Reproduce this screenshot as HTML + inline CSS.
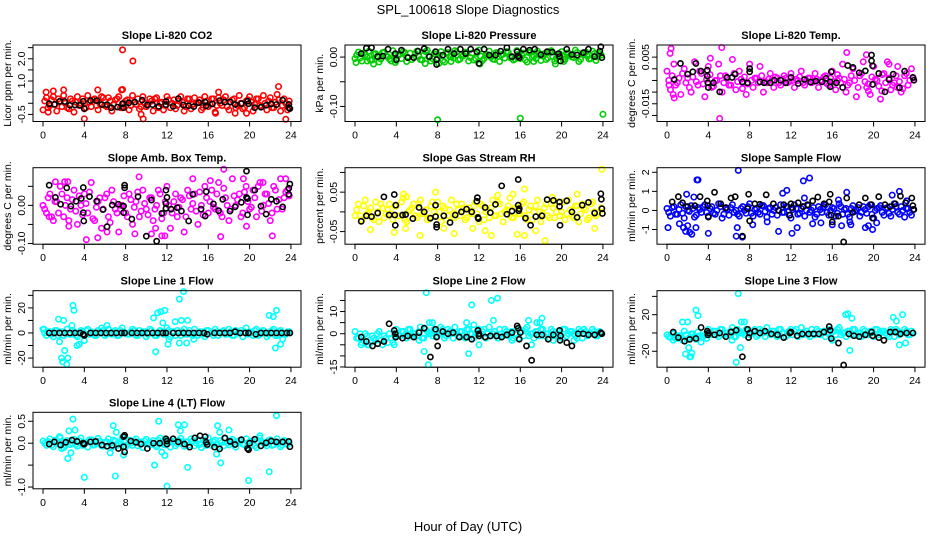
<!DOCTYPE html>
<html><head><meta charset="utf-8"><style>
html,body{margin:0;padding:0;background:#fff;}
svg{display:block;font-family:"Liberation Sans",Arial,sans-serif;}
</style></head><body>
<svg id="chart" width="936" height="540" viewBox="0 0 936 540" xmlns="http://www.w3.org/2000/svg">
<rect width="936" height="540" fill="#fff"/>
<text x="468" y="14" text-anchor="middle" font-size="13">SPL_100618  Slope Diagnostics</text>
<text x="468" y="531" text-anchor="middle" font-size="13">Hour of Day (UTC)</text>
</svg>
<script>
// ---- data ----
const xTicks = [0,4,8,12,16,20,24];

const co2Color = [-0.3,0.25,-0.1,0.3,-0.35,0.1,0.35,-0.2,0.2,-0.4,0.3,0,-0.25,0.35,-0.15,0.2,-0.3,0.3,-0.1,0.25,-0.35,0.15,0.3,-0.2,0.1,-0.3,0.35,-0.05,-0.25,0.3,-0.15,0.2,-0.35,0.25,0,-0.3,0.3,-0.2,0.15,-0.1,0.3,-0.35,0.2,-0.25,0.25,0.05,-0.3,0.3,-0.15,0.2,-0.4,0.25,-0.1,0.3,-0.3,0.15,-0.2,0.35,-0.25,0.1,0.3,-0.35,0.2,-0.1,0.35,-0.3,0.25,-0.2,0.4,-0.35,0.2,-0.3];
const co2ColorB = [0.1,-0.2,0.15,-0.05,0.2,-0.15,0,-0.25,0.1,0.05,-0.1,0.2,-0.2,0.05,0.15,-0.1,0,0.25,-0.15,0.1,-0.05,0.2,-0.2,0,0.15,-0.1,0.05,0.2,-0.15,0,-0.05,0.1,0.2,-0.2,0.05,-0.1,0.15,0,-0.25,0.1,0.05,-0.15,0.2,-0.05,0,0.15,-0.2,0.1,-0.05,0.2,-0.1,0,0.15,-0.15,0.05,0.2,-0.1,0,-0.2,0.15,0.05,-0.05,0.2,-0.15,0,0.1,-0.2,0.05,0.15,-0.1,0,0.1];
const co2Outliers = [[7.7,2.4],[8.7,1.9],[7.6,0.6],[7.7,0.62],[1,0.55],[2,0.6],[5.3,0.6],[4,-0.7],[9.7,-0.7],[23.5,-0.72],[22.8,0.75],[0.3,0.5],[17,0.5],[9.5,-0.5],[0.5,-0.4],[18.6,-0.45],[16.7,-0.45],[19.7,-0.45]];
const co2Black = [[0.6,-0.02],[1.1,-0.05],[1.6,0.08],[2.1,0.08],[2.6,-0.09],[3.1,-0.08],[3.6,-0.09],[3.9,0.09],[4,-0.24],[4.6,0.12],[5.2,0.12],[5.7,-0.06],[6.2,-0.06],[6.6,-0.2],[7.2,-0.17],[7.7,-0.02],[7.8,-0.2],[8.3,0.02],[8.9,0.05],[9.6,0.14],[10.1,-0.08],[10.6,-0.06],[11.2,-0.14],[11.9,0.08],[11.9,-0.06],[12.6,-0.14],[13.1,0.21],[13.6,-0.08],[14.1,-0.11],[14.6,-0.15],[15.1,0.03],[15.7,0.05],[15.8,-0.11],[16.4,-0.03],[17.1,0.12],[17.6,0.05],[18.1,0.06],[18.6,-0.05],[19.2,-0.02],[19.8,0.09],[19.9,-0.02],[20.5,-0.2],[21.1,-0.18],[21.6,-0.09],[22.1,-0.03],[22.6,-0.06],[23.2,0.14],[23.8,-0.05],[23.8,-0.2],[23.9,-0.24]];

const presColor = [-3,10,-8,5,12,-6,7,-10,9,2,-4,13,-7,6,11,-9,8,-1,12,-5,4,14,-8,7,-2,11,-10,9,1,13,-6,5,10,-8,8,-3,14,-7,4,12,-4,9,-9,6,11,-1,-6,13,-3,8,-10,10,2,12,-7,7,-2,13,-8,5,11,-5,8,0,14,-9,6,10,-4,12,-7,7];
const presColorB = [4,-2,8,0,-6,6,2,-4,10,1,-8,5,3,-3,9,-1,-5,7,2,-6,11,0,-3,6,4,-7,8,1,-2,10,-4,3,7,-1,-6,9,2,-3,5,0,-5,8,4,-2,10,-1,-4,6,3,-6,9,0,-3,7,2,-5,11,1,-2,6,-4,8,3,-1,9,-5,5,2,-3,7,0,4];
const presOutliers = [[0.1,-11],[1.8,-14],[3.9,-11],[6.8,-13],[8,-127],[8.1,-13],[12.1,-14],[16,-124],[19.4,-14],[24,-116],[1.2,-8],[9.3,-9],[17.3,-9],[20.2,-9]];
const presBlack = [[0.6,7],[1.1,18],[1.6,19],[2.2,1],[2.7,2],[3.2,16],[3.9,7],[4,-5],[4.5,14],[5.1,-1],[5.7,-1],[6.1,12],[6.7,17],[7.2,1],[7.8,11],[7.9,-5],[7.9,-15],[8.5,4],[9,16],[9.6,7],[10.2,16],[10.7,7],[11.2,16],[11.8,11],[12,-13],[12.5,16],[13,4],[13.6,4],[14.1,12],[14.7,19],[15.2,1],[15.7,11],[15.8,2],[15.9,-1],[16.3,16],[16.9,14],[17.4,16],[18,5],[18.6,11],[19.1,10],[19.7,7],[19.8,1],[19.9,-8],[20.5,16],[21,5],[21.5,4],[22.1,9],[22.6,16],[23.2,1],[23.7,12],[23.8,21],[23.9,-1]];

const tempColor = [-10,-90,20,-60,-110,0,-40,-100,30,-70,-20,-120,10,-80,-50,20,-100,-30,-70,40,-90,-10,-60,-110,20,-80,-40,10,-100,-60,-20,-80,-40,-70,-30,-60,-20,-80,-50,-10,-70,-40,-60,-20,-80,-50,-30,-70,-10,-90,-40,20,-100,-60,0,-120,-30,30,-80,-110,10,-50,-130,-20,30,-90,-60,10,-100,-30,-70,0];
const tempColorB = [-50,-30,-70,-40,-20,-60,-80,-35,-55,-10,-65,-45,-25,-75,-50,-30,-60,-40,-70,-20,-55,-45,-35,-65,-50,-40,-60,-30,-55,-45,-50,-35,-60,-45,-40,-55,-50,-45,-35,-60,-50,-40,-55,-45,-50,-35,-65,-40,-55,-25,-60,-45,-70,-30,-50,-80,-20,-55,-65,-35,-45,-75,-25,-60,-40,-70,-30,-55,-85,-20,-50,-40];
const tempOutliers = [[0.3,66],[0.4,87],[0.2,-70],[0.6,-110],[0.7,-125],[4.2,45],[5.1,-213],[5.3,91],[17.4,70],[19.3,60],[19.5,-95],[20.8,-95],[21.5,20],[7.3,-85],[14.2,-55],[16.5,-50],[22.3,-80]];
const tempBlack = [[0.7,-46],[1.3,23],[2,-23],[2.5,-13],[2.8,23],[3.3,-10],[3.9,-6],[3.9,-31],[3.95,-60],[4,-80],[4.5,-60],[5.1,-99],[5.8,-37],[6.3,-37],[6.6,-23],[7.3,-56],[7.8,-60],[8,1],[8,-13],[9,-56],[9.4,-60],[10,-60],[10.4,-49],[11,-49],[11.5,-60],[12,-37],[12.7,-63],[13.3,-46],[13.9,-57],[14.4,-53],[15,-56],[15.4,-41],[15.8,-56],[15.8,-77],[15.9,-13],[16.4,-60],[17,-80],[17.5,14],[18,6],[18.6,-17],[19.2,-9],[19.8,59],[19.8,34],[19.9,13],[19.9,-67],[20.5,-20],[21.1,-99],[21.5,-46],[21.9,-23],[22.5,-81],[23,-10],[23.8,-37],[23.9,-49]];

const ambColor = [0,-20,30,-40,10,50,-30,20,-10,40,-50,0,30,-20,60,-40,10,-60,20,-30,40,-10,-70,0,-20,30,-50,10,-30,40,-10,20,-40,0,30,-20,50,-60,10,-30,20,-70,40,-10,30,-50,0,50,-20,40,-10,60,-30,20,-40,70,0,30,-20,50,-10,40,-30,60,0,30,-40,50,-10,70,20,40];
const ambColorB = [-10,20,-30,10,-20,30,0,-40,15,-15,25,-25,5,35,-35,-5,20,-10,30,-45,10,-20,0,25,-30,15,-5,35,-15,5,-25,20,-10,40,-35,10,0,-20,30,-5,15,-30,25,5,-15,35,-25,20,10,-5,30,-20,45,0,-10,25,15,-30,35,10,-5,20,50,-15,30,5,-20,40,15,-10,35,25];
const ambOutliers = [[1.2,62],[2.1,62],[2.4,62],[4.2,-90],[5.3,-85],[8.9,-75],[9.3,75],[10.5,-75],[11.5,-80],[11.8,-80],[14.5,70],[17.2,-82],[17.5,95],[19.4,70],[19.7,-55],[22.2,-80],[23.5,70],[0.6,-30],[2.5,-55],[6.2,-70],[10.9,-60],[16.2,65],[21.3,60]];
const ambBlack = [[0.6,53],[1.2,21],[1.7,3],[2.3,46],[2.7,-2],[3.2,11],[3.7,18],[3.9,47],[3.9,-19],[3.95,-41],[4.5,23],[5.2,11],[5.8,-11],[6.2,-56],[6.7,1],[7.3,3],[7.8,-2],[7.8,-19],[7.9,53],[7.9,46],[8.6,-36],[9.2,23],[10,-81],[10.5,14],[11,-94],[11.5,-21],[11.9,5],[11.9,-8],[11.9,40],[12,21],[12.4,-10],[13,-6],[13.4,-15],[14.1,-41],[14.5,29],[15.3,-10],[15.7,-28],[15.8,36],[16.5,4],[17,-14],[17.4,16],[18.1,-15],[18.6,-4],[19.2,8],[19.7,21],[19.7,90],[19.8,18],[19.8,-25],[20.5,40],[21.1,-2],[21.6,-23],[22.1,16],[22.6,11],[23.2,-4],[23.8,45],[23.8,29],[23.9,56]];

const rhColor = [-10,20,-20,30,0,-15,25,-25,10,-5,20,-20,15,-10,35,-25,5,20,-15,30,-5,-20,15,0,25,-25,10,-10,30,-15,5,20,-20,10,-5,25,-25,15,0,-15,30,-10,20,-25,5,35,-15,10,-5,25,-20,15,0,30,-25,10,-10,20,-15,25,0,-20,30,-10,15,-25,20,5,-15,25,-10,0];
const rhColorB = [5,-10,15,-5,10,-20,0,20,-15,5,-5,15,-10,25,-20,0,10,-10,20,-5,5,-15,25,-10,0,15,-20,5,-5,20,-10,10,-15,0,15,-5,20,-20,5,10,-10,25,-5,0,15,-15,10,-5,20,-10,5,-20,15,0,-5,20,-15,10,0,-10,25,-5,5,-15,15,-5,10,-20,20,0,-5,10];
const rhOutliers = [[1.5,-45],[3.8,-52],[4.7,45],[4.9,-42],[6.3,-60],[7.8,50],[8.6,-42],[9.6,-55],[11.4,-42],[12.6,-48],[13.2,-60],[15.7,-57],[16.4,58],[16.4,-60],[17.5,-48],[18.4,-73],[19.1,37],[23.9,108],[23.2,-42],[21.5,45],[5,38],[13.8,42],[15.3,45]];
const rhBlack = [[0.6,-24],[1.1,-10],[1.6,-12],[2.2,-3],[2.8,38],[3.3,-8],[3.8,44],[3.85,-8],[3.9,-34],[3.95,17],[4.6,-8],[4.9,-7],[5.6,-17],[6.2,11],[6.7,0],[7.3,-16],[7.8,-12],[7.8,17],[7.9,-32],[7.9,-39],[8.6,-10],[9.2,-27],[9.7,-8],[10.3,0],[10.8,7],[11.3,0],[11.8,27],[11.85,36],[11.9,-14],[11.95,-17],[12.6,11],[13.1,-2],[13.6,19],[14.2,66],[14.7,-6],[15.2,2],[15.8,82],[15.8,17],[15.85,3],[15.9,8],[16.5,-16],[17,-34],[17.5,-12],[18.1,-10],[18.6,31],[19.2,29],[19.8,25],[19.8,14],[19.85,-34],[20.5,28],[21,0],[21.5,-14],[22,17],[22.6,24],[23.2,-3],[23.8,46],[23.85,32],[23.9,8],[23.95,-4]];

const flowColor = [0.1,-0.3,0.2,-0.2,0.3,-0.4,0,0.25,-0.35,0.15,-0.1,0.3,-0.3,0.2,-0.2,0.35,-0.4,0.1,-0.25,0.3,0,-0.3,0.2,-0.15,0.35,-0.3,0.1,-0.2,0.25,-0.35,0.15,0,-0.25,0.3,-0.1,0.2,-0.4,0.3,-0.2,0.1,-0.3,0.25,0,-0.35,0.2,-0.1,0.3,-0.25,0.15,-0.3,0.35,-0.2,0.1,-0.35,0.25,0,-0.3,0.2,-0.15,0.3,-0.4,0.1,0.25,-0.25,0.15,-0.3,0.35,-0.1,0.2,-0.35,0.1,-0.25];
const flowColorB = [-0.1,0.15,-0.2,0.05,-0.15,0.2,-0.05,0.1,-0.25,0.05,0.2,-0.1,0.1,-0.15,0,0.2,-0.2,0.05,0.15,-0.1,-0.2,0.1,0,0.2,-0.15,0.05,-0.1,0.25,-0.05,0.1,-0.2,0.15,0,-0.1,0.2,-0.25,0.05,0.1,-0.15,0.2,0,-0.1,0.15,-0.2,0.05,0.2,-0.1,0,0.1,-0.15,0.2,0.05,-0.2,0.1,-0.05,0.15,-0.1,0.05,0.2,-0.2,0,0.15,-0.1,0.1,-0.15,0.05,0.2,-0.2,0,0.1,-0.1,0.05];
const flowOutliers = [[0.1,-0.9],[1.2,-0.7],[1.6,-0.9],[1.8,-1.1],[2,-0.8],[2.2,-1.15],[2.4,-1.25],[2.8,-0.9],[2.9,1.6],[3.0,1.6],[1.9,0.85],[2.6,0.7],[4,-1.2],[6.7,-1.35],[6.8,-0.9],[6.9,2.1],[7.3,-1.4],[8.3,-0.75],[9.7,-0.6],[10.8,-1.1],[11.6,1.05],[11.2,0.9],[12.1,-1.2],[12.6,-0.9],[13.2,1.55],[13.8,1.7],[13.3,0.65],[14.1,-0.7],[14.9,-0.65],[16,-0.75],[16.6,0.55],[16.9,-0.8],[17.4,0.95],[17.7,-0.6],[17.8,-0.75],[19.2,-0.9],[19.5,-0.8],[19.9,-1],[20.3,-0.65],[21.8,0.8],[22.5,1.0],[23.2,0.5]];
const flowBlack = [[0.5,0.45],[1.1,0.72],[1.5,0.4],[2,0.2],[2.7,0.25],[3.2,0.72],[3.9,0.5],[3.95,0.25],[4,-0.35],[4.6,0.95],[5.2,0.35],[5.7,0.15],[6.2,0.65],[6.6,0.72],[7.3,-1.35],[7.8,0.1],[7.9,0.85],[8,-0.55],[8.5,0.35],[9,0.32],[9.6,0.82],[10.3,0.35],[10.8,0],[11.3,0.3],[11.9,-0.25],[12,0.35],[12.1,0.15],[12.7,0.4],[13.2,0.2],[13.6,0.3],[14.1,0.5],[14.6,0.7],[15.2,0.35],[15.7,0.45],[15.8,0.85],[15.9,-0.25],[16,-0.6],[16.6,-0.3],[17.1,-1.65],[17.4,0.65],[18,-0.1],[18.6,0.3],[19.2,0.65],[19.8,0.3],[19.9,-0.4],[20.5,0.72],[21.1,0.3],[21.6,0.2],[22.1,0.35],[22.6,0.75],[23.1,0.4],[23.7,0.65],[23.8,0.25],[23.9,0.05]];

const line1Color = [3,-2,1,-3,2,0,-2,3,-1,1,-3,2,-1,3,1,-2,2,4,-2,3,-1,2,-2,4,0,-1,3,-2,2,1,-3,3,0,-2,2,-1,4,-3,1,2,-2,3,-1,0,3,-2,1,-3,2,0,3,-2,1,-1,3,-2,2,0,-3,4,1,-2,3,-1,2,-3,1,3,-2,2,-1,1];
const line1ColorB = [0,1,-1,2,-2,1,0,-1,2,-2,0,1,2,-1,0,-2,1,2,-1,0,1,-2,2,0,-1,1,2,-2,0,1,-1,2,-2,0,1,-1,2,1,-2,0,1,-1,2,-2,0,1,-1,2,0,-2,1,0,2,-1,1,-2,0,2,1,-1,0,2,-2,1,0,-1,2,-2,1,0,-1,1];
const line1Outliers = [[0.1,3],[1.5,11],[1.6,-7],[2.0,10],[1.8,-20],[1.9,-23],[2.1,-14],[2.3,-25],[2.4,-20],[2.9,22],[3,18],[2.8,6],[3.3,-10],[3.5,-9],[4,-6],[6.2,6],[10.7,12],[10.9,-15],[11.1,16],[11.4,17],[11.8,18],[11.6,8],[12.1,-9],[12.2,-5],[12.8,9],[13.2,27],[13.6,33],[13.2,-8],[13.4,10],[13.9,-8],[14,10],[14.6,-5],[21.9,14],[22.3,13],[22.5,-12],[22.6,18],[23,-9],[23.2,-5]];
const line1Black = [[0.6,0],[1.1,0],[1.6,0],[2.1,0],[2.6,0],[3.1,0],[3.6,0],[3.9,-1],[4,-2],[4.6,0],[5.1,0],[5.6,0],[6.1,0],[6.6,0],[7.1,0],[7.6,0],[7.9,0],[8.6,0],[9.1,0],[9.6,0],[10.1,0],[10.6,0],[11.1,0],[11.6,0],[11.9,0],[12.6,0],[13.1,0],[13.6,0],[14.1,0],[14.6,0],[15.1,0],[15.6,0],[15.9,-1],[16.6,0],[17.1,0],[17.6,0],[18.1,0],[18.6,1],[19.1,0],[19.6,0],[19.9,0],[20.6,-1],[21.1,0],[21.6,0],[22.1,0],[22.6,0],[23.1,0],[23.6,0],[23.9,0]];

const line2Color = [1,-2,-4,0,-5,-1,-3,1,-5,-2,0,-4,2,-1,1,-2,2,0,-1,3,-2,1,0,2,-1,1,-2,2,0,3,-1,1,-2,2,0,-1,2,1,-2,3,0,-1,2,-1,1,0,-2,2,1,-1,3,0,-2,1,2,-1,0,2,-1,1,-2,2,0,1,-1,2,-2,1,0,2,-1,1];
const line2ColorB = [-2,0,-3,-1,-4,-2,0,-3,-1,-4,-2,-1,0,1,-1,2,-1,0,1,-2,2,0,-1,1,0,2,-1,1,-2,0,1,-1,2,0,-2,1,-1,2,0,-1,1,-2,0,2,-1,1,0,-2,1,2,-1,0,1,-1,2,0,-2,1,-1,0,2,-1,1,0,-2,1,2,-1,0,1,-1,0];
const line2Outliers = [[6.7,-8],[6.9,18.5],[7.1,-14],[7.2,5],[7.5,5],[8.3,3],[10.8,5],[11,-9],[11.3,13],[12,-5],[13.2,15],[13.8,16],[13.4,6],[11.5,4],[15.2,-3],[16.8,6],[17.1,-5],[17.6,5],[18.1,7],[17.9,5],[0.6,-5],[1.2,-5],[3.8,-5],[6.2,-3],[19.2,-3],[21.2,-3]];
const line2Black = [[0.6,-1.5],[1.1,-3.5],[1.7,-5.5],[2.2,-4.5],[2.8,-3.5],[3.3,4.5],[3.8,1.5],[3.9,0],[3.95,-1.5],[4.6,-2],[5.1,-1],[5.7,-1.5],[6.2,0.5],[6.7,2.5],[7.3,-10.5],[7.8,2],[7.9,-1.5],[8,-5.5],[8.5,1],[9,0],[9.5,0.5],[10.1,-1.5],[10.8,-1.5],[11.3,-2.5],[11.9,1.5],[12,0],[12,-1],[12.6,-1.5],[13.1,-1],[13.7,-1],[14.2,-1.5],[14.7,-0.5],[15.2,0.5],[15.7,3.5],[15.8,2.5],[15.9,-2.5],[16,0.5],[16.6,-5.5],[17.1,-12],[17.6,-0.5],[18.1,-0.5],[18.7,-2.5],[19.2,-0.5],[19.8,1.5],[19.85,-3],[19.9,-1],[20.5,-4],[21,-5.5],[21.6,0],[22.1,0],[22.6,-0.5],[23.2,-0.5],[23.8,0.5],[23.9,0]];

const line3Color = [-2,-5,0,-6,-3,2,-7,-1,-4,1,-5,-2,4,-2,2,-4,4,0,-2,6,-4,2,0,4,-2,2,-4,4,0,6,-2,2,-4,4,0,-2,4,2,-4,6,0,-2,4,-2,2,0,-4,4,2,-2,6,0,-4,2,4,-2,0,4,-2,2,-4,4,0,2,-2,4,-4,2,0,4,-2,2];
const line3ColorB = [-4,-1,-6,-3,-8,-2,-5,-1,-7,-3,-4,-6,0,2,-2,4,-2,0,2,-4,4,0,-2,2,0,4,-2,2,-4,0,2,-2,4,0,-4,2,-2,4,0,-2,2,-4,0,4,-2,2,0,-4,2,4,-2,0,2,-2,4,0,-4,2,-2,0,4,-2,2,0,-4,2,4,-2,0,2,-2,0];
const line3Outliers = [[1.5,12],[1.8,-23],[2,12],[2.2,-26],[2.4,-22],[2.3,-26],[2.1,-16],[2.8,25],[3,19],[3.3,-10],[6.7,-32],[6.9,43],[7.1,-16],[7.2,12],[7.5,12],[17.3,20],[17.5,21],[17.9,16],[17.7,-19],[21.9,17],[22.2,13],[22.5,-13],[22.8,20],[23.1,-11],[0.6,-8],[6.3,-8],[16,-8]];
const line3Black = [[0.6,1],[1.1,-5],[1.7,-9],[2.2,-7],[2.8,-6],[3.3,6],[3.9,2],[3.95,-2],[4.0,0],[4.6,-2],[5.1,0],[5.7,-4],[6.2,1],[6.7,3],[7.3,-26],[7.8,4],[7.9,-5],[8,0],[8.5,2],[9,0],[9.5,2],[10.1,-1],[10.7,-2],[11.3,-5],[11.9,0],[12,1],[12.6,-3],[13.1,-1],[13.7,-1],[14.2,-1],[14.7,-1],[15.2,1],[15.7,7],[15.8,3],[15.9,-6],[16.6,-11],[17.1,-35],[17.6,-1],[18.1,-3],[18.6,-4],[19.2,-2],[19.8,1],[19.9,-3],[20.5,-5],[21,-8],[21.6,1],[22.1,1],[22.6,-1],[23.2,0],[23.8,0]];

const line4Color = [0.05,-0.05,0.1,-0.08,0.03,0.12,-0.1,0.06,-0.03,0.09,-0.07,0.12,0,-0.09,0.08,-0.04,0.11,-0.06,0.02,0.1,-0.09,0.05,-0.02,0.13,-0.08,0.07,-0.05,0.1,0,-0.1,0.09,-0.04,0.06,-0.08,0.12,-0.03,0.08,-0.09,0.05,-0.01,0.11,-0.07,0.03,0.1,-0.06,0.08,-0.1,0.04,0.12,-0.05,0.07,-0.08,0.02,0.11,-0.04,0.09,-0.09,0.06,-0.02,0.1,-0.07,0.05,-0.1,0.12,0,-0.06,0.08,-0.04,0.1,-0.08,0.06,-0.03];
const line4ColorB = [0,0.04,-0.04,0.07,-0.02,0.03,-0.06,0.05,0,-0.03,0.06,-0.05,0.02,0.08,-0.04,0,0.05,-0.07,0.03,-0.01,0.07,-0.05,0.02,0.04,-0.03,0,0.06,-0.06,0.03,0.05,-0.02,0.01,-0.05,0.07,0,-0.04,0.04,0.02,-0.06,0.06,-0.01,0.03,-0.04,0.05,0,-0.03,0.07,-0.05,0.02,0.04,-0.02,0.06,-0.06,0,0.05,-0.03,0.03,0.07,-0.04,0.01,0.05,-0.06,0.02,0.04,-0.02,0.06,-0.05,0.03,0,-0.04,0.05,0.02];
const line4Outliers = [[1.6,0.15],[1.8,-0.12],[2.4,-0.35],[2.5,0.28],[2.7,-0.22],[2.9,0.55],[3.1,0.3],[4.0,-0.78],[6.5,-0.22],[6.8,0.4],[7,-0.75],[7.1,0.25],[7.8,-0.27],[10.8,-0.5],[11.2,0.5],[11.5,-0.2],[12,-0.98],[11.8,-0.28],[13.1,0.42],[13.3,0.28],[13.7,0.42],[14,-0.55],[16.8,-0.25],[16.9,0.4],[17.1,0.25],[17.2,-0.45],[18,0.3],[19.9,-0.85],[21.9,-0.65],[22.6,0.63],[21,0.17]];
const line4Black = [[0.6,-0.02],[1.1,0.03],[1.7,-0.04],[2.2,0.02],[2.8,0.07],[3.3,0.04],[3.9,0.0],[3.95,-0.02],[4,-0.02],[4.6,0.03],[5.1,0.04],[5.7,-0.04],[6.2,-0.07],[6.7,-0.05],[7.3,-0.12],[7.8,0.15],[7.9,0.18],[7.8,-0.08],[7.9,-0.2],[8.5,0.05],[9,0.02],[9.5,-0.02],[10.1,-0.12],[10.7,0],[11.3,0],[11.9,0.1],[12,0.05],[12,-0.02],[12.6,0.1],[13.1,0.03],[13.7,-0.02],[14.2,-0.09],[14.7,0.12],[15.2,0.17],[15.7,0.15],[15.8,0.02],[15.9,-0.03],[16.6,-0.09],[17.1,-0.13],[17.6,0.12],[18.1,0.04],[18.6,-0.03],[19.2,0.08],[19.8,-0.12],[19.9,-0.15],[20,0],[20.5,0.09],[21.1,-0.06],[21.6,0.01],[22.1,0.05],[22.6,0.03],[23.2,0.03],[23.8,0.04],[23.9,-0.08]];

const co2YTicks = [-0.5,0,0.5,1,1.5,2,2.5];
const co2YLabels = [[-0.5,'-0.5'],[1,'1.0'],[2,'2.0']];
const presYTicks = [-0.10,-0.05,0];
const presYLabels = [[-0.10,'-0.10'],[0,'0.00']];
const tempYTicks = [-0.02,-0.015,-0.01,-0.005,0,0.005];
const tempYLabels = [[-0.015,'-0.015'],[0.005,'0.005']];
const ambYTicks = [-0.1,-0.05,0,0.05];
const ambYLabels = [[-0.1,'-0.10'],[0,'0.00']];
const rhYTicks = [-0.05,0,0.05,0.1];
const rhYLabels = [[-0.05,'-0.05'],[0.05,'0.05']];
const flowYTicks = [-1,0,1,2];
const flowYLabels = [[-1,'-1'],[0,'0'],[1,'1'],[2,'2']];
const line1YTicks = [-20,-10,0,10,20,30];
const line1YLabels = [[-20,'-20'],[0,'0'],[20,'20']];
const line2YTicks = [-15,-10,-5,0,5,10,15];
const line2YLabels = [[-15,'-15'],[0,'0'],[10,'10']];
const line3YTicks = [-20,0,20,40];
const line3YLabels = [[-20,'-20'],[20,'20']];
const line4YTicks = [-1,-0.5,0,0.5];
const line4YLabels = [[-1,'-1.0'],[0,'0.0'],[0.5,'0.5']];

// ---- layout ----
const NS = 'http://www.w3.org/2000/svg';
const svg = document.getElementById('chart');
const rowTop = [45, 167.7, 290.7, 412.3];
const boxH = 76.5;
function mk(tag, attrs, parent){
  const e = document.createElementNS(NS, tag);
  for (const k in attrs) e.setAttribute(k, attrs[k]);
  parent.appendChild(e);
  return e;
}
const panels = [
  {id:'co2', title:'Slope Li-820 CO2', ylab:'Licor ppm per min.', col:0,row:0, ymin:-0.82,ymax:2.62, color:'#ff0000', scale:1, c:co2Color, c2:co2ColorB, o:co2Outliers, b:co2Black, t:co2YTicks, l:co2YLabels},
  {id:'pressure', title:'Slope Li-820 Pressure', ylab:'kPa per min.', col:1,row:0, ymin:-0.1306,ymax:0.0245, color:'#00cd00', scale:0.001, c:presColor, c2:presColorB, o:presOutliers, b:presBlack, t:presYTicks, l:presYLabels},
  {id:'temp', title:'Slope Li-820 Temp.', ylab:'degrees C per min.', col:2,row:0, ymin:-0.0226,ymax:0.0102, color:'#ff00ff', scale:0.0001, c:tempColor, c2:tempColorB, o:tempOutliers, b:tempBlack, t:tempYTicks, l:tempYLabels},
  {id:'amb-temp', title:'Slope Amb. Box Temp.', ylab:'degrees C per min.', col:0,row:1, ymin:-0.102,ymax:0.099, color:'#ff00ff', scale:0.001, c:ambColor, c2:ambColorB, o:ambOutliers, b:ambBlack, t:ambYTicks, l:ambYLabels},
  {id:'gas-rh', title:'Slope Gas Stream RH', ylab:'percent per min.', col:1,row:1, ymin:-0.082,ymax:0.112, color:'#ffff00', scale:0.001, c:rhColor, c2:rhColorB, o:rhOutliers, b:rhBlack, t:rhYTicks, l:rhYLabels},
  {id:'sample-flow', title:'Slope Sample Flow', ylab:'ml/min per min.', col:2,row:1, ymin:-1.77,ymax:2.24, color:'#0000ff', scale:1, c:flowColor, c2:flowColorB, o:flowOutliers, b:flowBlack, t:flowYTicks, l:flowYLabels},
  {id:'line1-flow', title:'Slope Line 1 Flow', ylab:'ml/min per min.', col:0,row:2, ymin:-27.3,ymax:33.7, color:'#00ffff', scale:1, c:line1Color, c2:line1ColorB, o:line1Outliers, b:line1Black, t:line1YTicks, l:line1YLabels},
  {id:'line2-flow', title:'Slope Line 2 Flow', ylab:'ml/min per min.', col:1,row:2, ymin:-15.1,ymax:19.4, color:'#00ffff', scale:1, c:line2Color, c2:line2ColorB, o:line2Outliers, b:line2Black, t:line2YTicks, l:line2YLabels},
  {id:'line3-flow', title:'Slope Line 3 Flow', ylab:'ml/min per min.', col:2,row:2, ymin:-37.4,ymax:46.2, color:'#00ffff', scale:1, c:line3Color, c2:line3ColorB, o:line3Outliers, b:line3Black, t:line3YTicks, l:line3YLabels},
  {id:'line4-flow', title:'Slope Line 4 (LT) Flow', ylab:'ml/min per min.', col:0,row:3, ymin:-1.04,ymax:0.705, color:'#00ffff', scale:1, c:line4Color, c2:line4ColorB, o:line4Outliers, b:line4Black, t:line4YTicks, l:line4YLabels}
];

panels.forEach(p => {
  const x0 = 43 + 312*p.col;
  const left = 33 + 312*p.col, right = 301 + 312*p.col;
  const top = rowTop[p.row], bottom = top + boxH;
  const xs = h => x0 + h*10.33;
  const ys = v => bottom - (v - p.ymin)/(p.ymax - p.ymin)*boxH;
  const g = mk('g', {}, svg);
  
  

  const title = mk('text', {x:(left+right)/2, y:top-6, 'text-anchor':'middle', 'font-size':'11', 'font-weight':'bold'}, g);
  title.textContent = p.title;
  
  

  const ylab = mk('text', {x:0, y:0, 'text-anchor':'middle', 'font-size':'10.5', transform:`translate(${left-22},${top+boxH/2}) rotate(-90)`}, g);
  ylab.textContent = p.ylab;
  
  

  const xa = mk('g', {stroke:'#000', 'stroke-width':'1'}, g);
  
  
  mk('line', {x1:xs(xTicks[0]), x2:xs(xTicks[xTicks.length-1]), y1:bottom, y2:bottom}, xa);
  xTicks.forEach(t => {
    mk('line', {x1:xs(t), x2:xs(t), y1:bottom, y2:bottom+5}, xa);
    const tx = mk('text', {x:xs(t), y:bottom+17, 'text-anchor':'middle', 'font-size':'10.5', stroke:'none'}, g);
    tx.textContent = t;
    
    
  });
  const ya = mk('g', {stroke:'#000', 'stroke-width':'1'}, g);
  
  
  mk('line', {x1:left, x2:left, y1:ys(p.t[0]), y2:ys(p.t[p.t.length-1])}, ya);
  p.t.forEach(t => mk('line', {x1:left-5, x2:left, y1:ys(t), y2:ys(t)}, ya));
  p.l.forEach(([v, s]) => {
    const tx = mk('text', {x:0, y:0, 'text-anchor':'middle', 'font-size':'10.5', transform:`translate(${left-8},${ys(v)}) rotate(-90)`}, g);
    tx.textContent = s;
    
    
  });

  const cg = mk('g', {fill:'none', stroke:p.color, 'stroke-width':'1.6'}, g);
  
  
  const n = p.c.length;
  p.c.forEach((v, i) => mk('circle', {cx:xs(i*24/n), cy:ys(v*p.scale), r:2.7}, cg));
  const n2 = p.c2.length;
  p.c2.forEach((v, i) => mk('circle', {cx:xs((i+0.5)*24/n2), cy:ys(v*p.scale), r:2.7}, cg));
  p.o.forEach(([h, v]) => mk('circle', {cx:xs(h), cy:ys(v*p.scale), r:2.7}, cg));

  const bg = mk('g', {fill:'none', stroke:'#000', 'stroke-width':'1.6'}, g);
  
  
  p.b.forEach(([h, v]) => mk('circle', {cx:xs(h), cy:ys(v*p.scale), r:2.6}, bg));

  const box = mk('rect', {x:left, y:top, width:right-left, height:boxH, fill:'none', stroke:'#000', 'stroke-width':'1'}, g);
  
  
});
</script>
</body></html>
